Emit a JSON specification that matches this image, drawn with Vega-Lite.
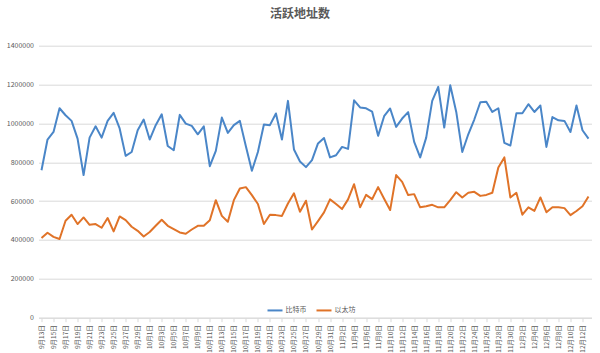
{
  "$schema": "https://vega.github.io/schema/vega-lite/v6.json",
  "width": 553,
  "height": 272,
  "autosize": {"type": "none"},
  "padding": {"left": 38.5, "top": 45.7, "right": 8.5, "bottom": 35.3},
  "background": "white",
  "config": {"font": "Noto Sans CJK SC", "view": {"stroke": null}},
  "title": {"text": "活跃地址数", "font": "Noto Sans CJK SC", "fontSize": 12, "fontWeight": "bold", "color": "#595959", "offset": 21, "dx": -15, "anchor": "middle"},
  "data": {"values": [
    {"d": "9月13日", "比特币": 759000, "以太坊": 410000},
    {"d": "9月14日", "比特币": 917000, "以太坊": 437000},
    {"d": "9月15日", "比特币": 956000, "以太坊": 416000},
    {"d": "9月16日", "比特币": 1078000, "以太坊": 405000},
    {"d": "9月17日", "比特币": 1042000, "以太坊": 499000},
    {"d": "9月18日", "比特币": 1013000, "以太坊": 530000},
    {"d": "9月19日", "比特币": 922000, "以太坊": 482000},
    {"d": "9月20日", "比特币": 734000, "以太坊": 516000},
    {"d": "9月21日", "比特币": 927000, "以太坊": 478000},
    {"d": "9月22日", "比特币": 985000, "以太坊": 482000},
    {"d": "9月23日", "比特币": 927000, "以太坊": 463000},
    {"d": "9月24日", "比特币": 1013000, "以太坊": 513000},
    {"d": "9月25日", "比特币": 1054000, "以太坊": 444000},
    {"d": "9月26日", "比特币": 974000, "以太坊": 521000},
    {"d": "9月27日", "比特币": 833000, "以太坊": 502000},
    {"d": "9月28日", "比特币": 853000, "以太坊": 468000},
    {"d": "9月29日", "比特币": 965000, "以太坊": 447000},
    {"d": "9月30日", "比特币": 1020000, "以太坊": 418000},
    {"d": "10月1日", "比特币": 917000, "以太坊": 441000},
    {"d": "10月2日", "比特币": 991000, "以太坊": 473000},
    {"d": "10月3日", "比特币": 1047000, "以太坊": 504000},
    {"d": "10月4日", "比特币": 884000, "以太坊": 473000},
    {"d": "10月5日", "比特币": 862000, "以太坊": 456000},
    {"d": "10月6日", "比特币": 1044000, "以太坊": 439000},
    {"d": "10月7日", "比特币": 999000, "以太坊": 432000},
    {"d": "10月8日", "比特币": 987000, "以太坊": 454000},
    {"d": "10月9日", "比特币": 944000, "以太坊": 473000},
    {"d": "10月10日", "比特币": 985000, "以太坊": 473000},
    {"d": "10月11日", "比特币": 780000, "以太坊": 502000},
    {"d": "10月12日", "比特币": 859000, "以太坊": 605000},
    {"d": "10月13日", "比特币": 1030000, "以太坊": 524000},
    {"d": "10月14日", "比特币": 951000, "以太坊": 494000},
    {"d": "10月15日", "比特币": 991000, "以太坊": 605000},
    {"d": "10月16日", "比特币": 1013000, "以太坊": 665000},
    {"d": "10月17日", "比特币": 883000, "以太坊": 672000},
    {"d": "10月18日", "比特币": 756000, "以太坊": 631000},
    {"d": "10月19日", "比特币": 853000, "以太坊": 585000},
    {"d": "10月20日", "比特币": 994000, "以太坊": 482000},
    {"d": "10月21日", "比特币": 991000, "以太坊": 530000},
    {"d": "10月22日", "比特币": 1051000, "以太坊": 528000},
    {"d": "10月23日", "比特币": 917000, "以太坊": 524000},
    {"d": "10月24日", "比特币": 1116000, "以太坊": 588000},
    {"d": "10月25日", "比特币": 866000, "以太坊": 640000},
    {"d": "10月26日", "比特币": 804000, "以太坊": 545000},
    {"d": "10月27日", "比特币": 775000, "以太坊": 602000},
    {"d": "10月28日", "比特币": 811000, "以太坊": 454000},
    {"d": "10月29日", "比特币": 897000, "以太坊": 497000},
    {"d": "10月30日", "比特币": 925000, "以太坊": 542000},
    {"d": "10月31日", "比特币": 825000, "以太坊": 609000},
    {"d": "11月1日", "比特币": 836000, "以太坊": 585000},
    {"d": "11月2日", "比特币": 879000, "以太坊": 559000},
    {"d": "11月3日", "比特币": 869000, "以太坊": 609000},
    {"d": "11月4日", "比特币": 1119000, "以太坊": 687000},
    {"d": "11月5日", "比特币": 1082000, "以太坊": 568000},
    {"d": "11月6日", "比特币": 1078000, "以太坊": 632000},
    {"d": "11月7日", "比特币": 1061000, "以太坊": 610000},
    {"d": "11月8日", "比特币": 936000, "以太坊": 672000},
    {"d": "11月9日", "比特币": 1037000, "以太坊": 612000},
    {"d": "11月10日", "比特币": 1077000, "以太坊": 554000},
    {"d": "11月11日", "比特币": 982000, "以太坊": 734000},
    {"d": "11月12日", "比特币": 1025000, "以太坊": 699000},
    {"d": "11月13日", "比特币": 1058000, "以太坊": 631000},
    {"d": "11月14日", "比特币": 905000, "以太坊": 636000},
    {"d": "11月15日", "比特币": 825000, "以太坊": 568000},
    {"d": "11月16日", "比特币": 927000, "以太坊": 574000},
    {"d": "11月17日", "比特币": 1116000, "以太坊": 581000},
    {"d": "11月18日", "比特币": 1188000, "以太坊": 568000},
    {"d": "11月19日", "比特币": 979000, "以太坊": 568000},
    {"d": "11月20日", "比特币": 1196000, "以太坊": 605000},
    {"d": "11月21日", "比特币": 1059000, "以太坊": 646000},
    {"d": "11月22日", "比特币": 853000, "以太坊": 619000},
    {"d": "11月23日", "比特币": 944000, "以太坊": 643000},
    {"d": "11月24日", "比特币": 1020000, "以太坊": 648000},
    {"d": "11月25日", "比特币": 1109000, "以太坊": 627000},
    {"d": "11月26日", "比特币": 1112000, "以太坊": 632000},
    {"d": "11月27日", "比特币": 1059000, "以太坊": 643000},
    {"d": "11月28日", "比特币": 1078000, "以太坊": 773000},
    {"d": "11月29日", "比特币": 900000, "以太坊": 825000},
    {"d": "11月30日", "比特币": 886000, "以太坊": 619000},
    {"d": "12月1日", "比特币": 1052000, "以太坊": 643000},
    {"d": "12月2日", "比特币": 1052000, "以太坊": 530000},
    {"d": "12月3日", "比特币": 1099000, "以太坊": 568000},
    {"d": "12月4日", "比特币": 1059000, "以太坊": 550000},
    {"d": "12月5日", "比特币": 1092000, "以太坊": 619000},
    {"d": "12月6日", "比特币": 879000, "以太坊": 543000},
    {"d": "12月7日", "比特币": 1033000, "以太坊": 568000},
    {"d": "12月8日", "比特币": 1016000, "以太坊": 568000},
    {"d": "12月9日", "比特币": 1013000, "以太坊": 564000},
    {"d": "12月10日", "比特币": 956000, "以太坊": 528000},
    {"d": "12月11日", "比特币": 1092000, "以太坊": 549000},
    {"d": "12月12日", "比特币": 965000, "以太坊": 574000},
    {"d": "12月13日", "比特币": 922000, "以太坊": 624000}
  ]},
  "transform": [{"fold": ["比特币", "以太坊"], "as": ["s", "v"]}],
  "mark": {"type": "line", "strokeWidth": 2, "strokeJoin": "round"},
  "encoding": {
    "x": {
      "field": "d", "type": "ordinal", "sort": null,
      "scale": {"padding": 0.5},
      "axis": {
        "title": null,
        "values": ["9月13日","9月15日","9月17日","9月19日","9月21日","9月23日","9月25日","9月27日","9月29日","10月1日","10月3日","10月5日","10月7日","10月9日","10月11日","10月13日","10月15日","10月17日","10月19日","10月21日","10月23日","10月25日","10月27日","10月29日","10月31日","11月2日","11月4日","11月6日","11月8日","11月10日","11月12日","11月14日","11月16日","11月18日","11月20日","11月22日","11月24日","11月26日","11月28日","11月30日","12月2日","12月4日","12月6日","12月8日","12月10日","12月12日"],
        "labelAngle": -90,
        "labelFontSize": 6.5,
        "labelColor": "#595959",
        "labelPadding": 3,
        "domainColor": "#d9d9d9",
        "tickColor": "#d9d9d9",
        "tickSize": 4,
        "grid": false
      }
    },
    "y": {
      "field": "v", "type": "quantitative",
      "scale": {"domain": [0, 1400000], "nice": false},
      "axis": {
        "title": null,
        "values": [0, 200000, 400000, 600000, 800000, 1000000, 1200000, 1400000],
        "format": "d",
        "labelFontSize": 7,
        "labelColor": "#595959",
        "labelPadding": 5,
        "domain": false,
        "ticks": false,
        "gridColor": "#d9d9d9",
        "gridWidth": 1
      }
    },
    "color": {
      "field": "s", "type": "nominal",
      "scale": {"domain": ["比特币", "以太坊"], "range": ["#4a86c8", "#e07328"]},
      "legend": {
        "title": null,
        "orient": "none",
        "direction": "horizontal",
        "legendX": 228,
        "legendY": 256,
        "symbolType": "stroke",
        "symbolSize": 225,
        "symbolStrokeWidth": 2,
        "labelFontSize": 7,
        "labelColor": "#595959",
        "labelOffset": 2,
        "columnPadding": 6
      }
    }
  }
}
